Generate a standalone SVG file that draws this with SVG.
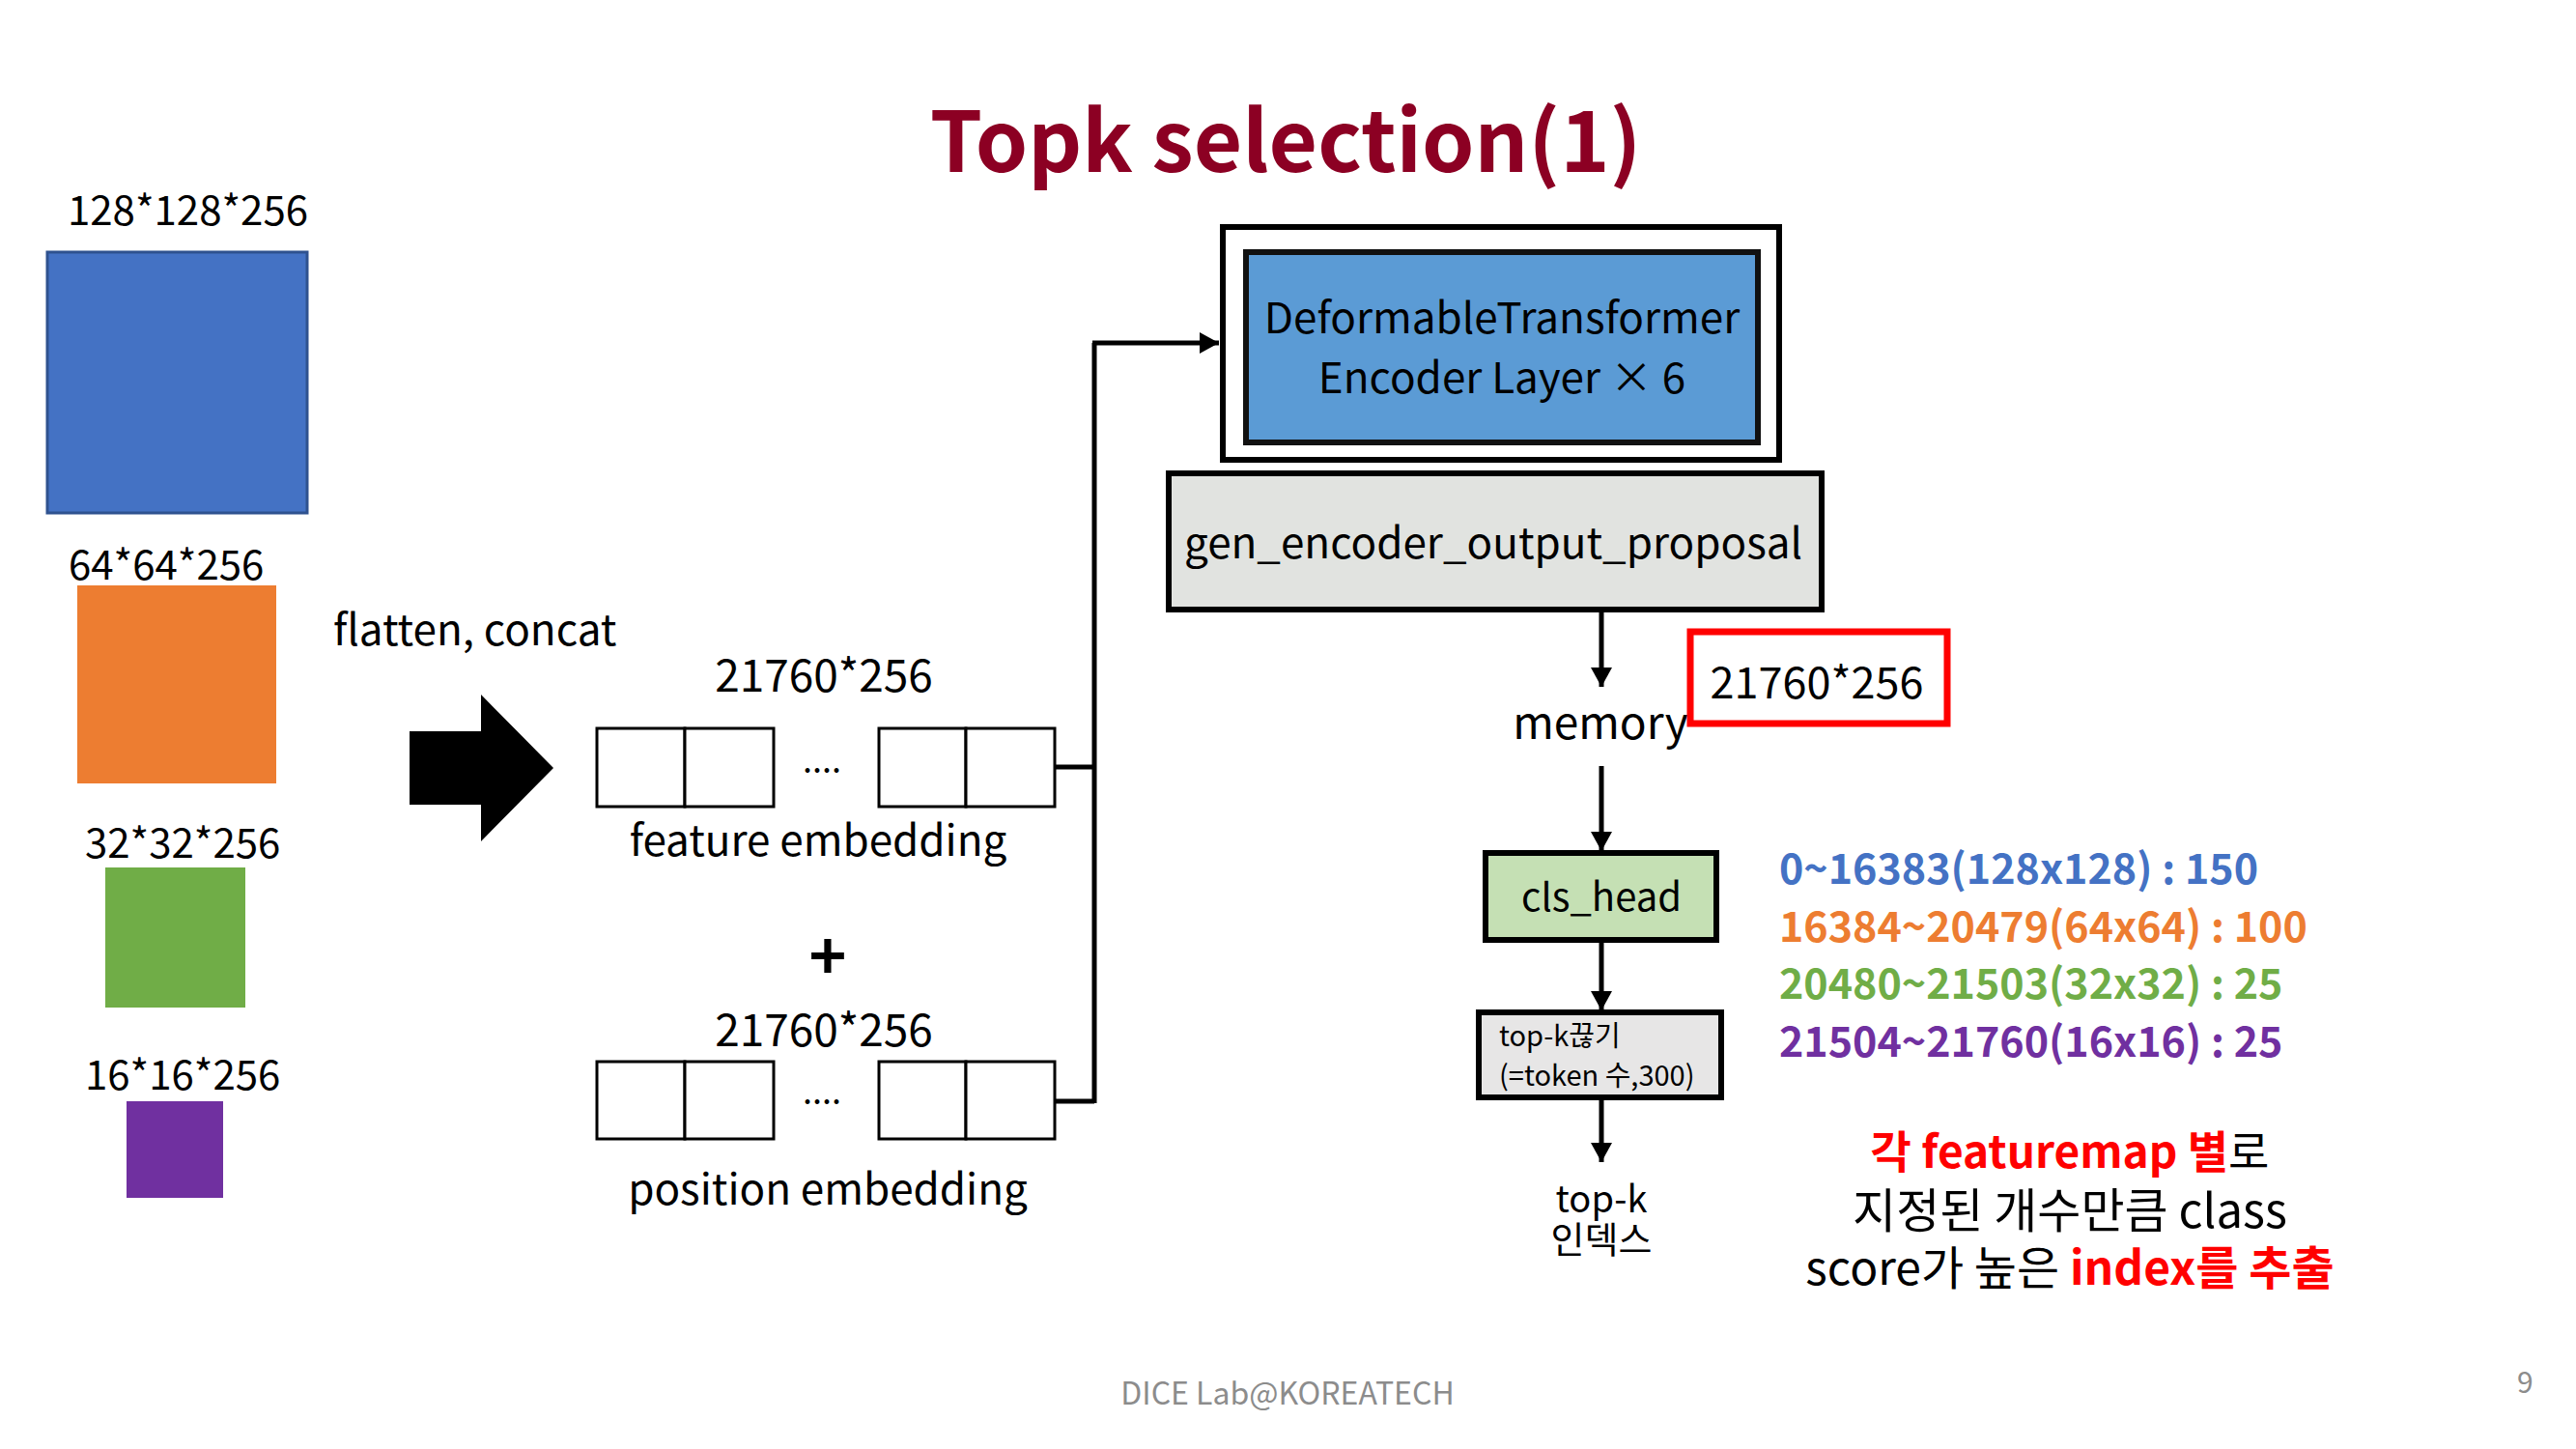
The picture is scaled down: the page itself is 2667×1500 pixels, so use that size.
<svg xmlns="http://www.w3.org/2000/svg" width="2667" height="1500" viewBox="0 0 2667 1500">
<defs>
<style>
text{font-family:"Noto Sans CJK KR","Noto Sans",sans-serif;fill:#000}
.t42{font-size:42px}
.t44{font-size:44px}
.b{font-weight:bold}
.cell{fill:#fff;stroke:#000;stroke-width:3}
.conn{fill:none;stroke:#000;stroke-width:5}
.red{fill:#FF0000;font-weight:bold}
</style>
<marker id="ah" markerUnits="userSpaceOnUse" markerWidth="22" markerHeight="22" refX="20" refY="11" orient="auto">
<path d="M0,0 L20,11 L0,22 Z" fill="#000"/>
</marker>
</defs>
<rect width="2667" height="1500" fill="#fff"/>
<g id="title"><text x="1331" y="178" text-anchor="middle" font-size="87" font-weight="bold" style="fill:#8C0023">Topk selection(1)</text></g>

<g id="fm128"><text class="t42" x="70" y="233">128*128*256</text><rect x="49" y="261" width="269" height="270" fill="#4472C4" stroke="#2F528F" stroke-width="3"/></g>
<g id="fm64"><text class="t42" x="71" y="600">64*64*256</text><rect x="80" y="606" width="206" height="205" fill="#ED7D31"/></g>
<g id="fm32"><text class="t42" x="88" y="888">32*32*256</text><rect x="109" y="898" width="145" height="145" fill="#70AD47"/></g>
<g id="fm16"><text class="t42" x="88" y="1128">16*16*256</text><rect x="131" y="1140" width="100" height="100" fill="#7030A0"/></g>

<g id="flatten"><text class="t44" x="345" y="668">flatten, concat</text><path d="M424,757 H498 V719 L573,795 L498,871 V833 H424 Z" fill="#000"/></g>

<g id="feature"><text x="853" y="716" text-anchor="middle" font-size="46">21760*256</text>
<rect class="cell" x="618" y="754" width="91" height="81"/><rect class="cell" x="709" y="754" width="92" height="81"/>
<text x="851" y="800" text-anchor="middle" font-size="36">....</text>
<rect class="cell" x="910" y="754" width="90" height="81"/><rect class="cell" x="1000" y="754" width="92" height="81"/>
<text class="t44" x="847" y="886" text-anchor="middle">feature embedding</text></g>

<g id="plus"><text x="857" y="1014" text-anchor="middle" font-size="66" font-weight="bold">+</text></g>

<g id="position"><text x="853" y="1083" text-anchor="middle" font-size="46">21760*256</text>
<rect class="cell" x="618" y="1099" width="91" height="80"/><rect class="cell" x="709" y="1099" width="92" height="80"/>
<text x="851" y="1143" text-anchor="middle" font-size="36">....</text>
<rect class="cell" x="910" y="1099" width="90" height="80"/><rect class="cell" x="1000" y="1099" width="92" height="80"/>
<text class="t44" x="857" y="1247" text-anchor="middle">position embedding</text></g>

<g id="encoder"><rect x="1266" y="235" width="576" height="241" fill="#fff" stroke="#000" stroke-width="6"/>
<rect x="1290" y="261" width="530" height="197" fill="#5B9BD5" stroke="#111" stroke-width="6"/>
<text x="1555" y="345" text-anchor="middle" font-size="44">DeformableTransformer</text>
<text x="1555" y="407" text-anchor="middle" font-size="44">Encoder Layer × 6</text></g>

<g id="gen"><rect x="1210" y="490" width="676" height="141" fill="#E1E3E0" stroke="#000" stroke-width="6"/>
<text x="1546" y="578" text-anchor="middle" font-size="44">gen_encoder_output_proposal</text></g>

<g id="memory"><text x="1657" y="765" text-anchor="middle" font-size="46">memory</text></g>
<g id="dim"><rect x="1750" y="654" width="266" height="95" fill="#fff" stroke="#FF0000" stroke-width="7"/>
<text x="1881" y="723" text-anchor="middle" font-size="45">21760*256</text></g>

<g id="cls"><rect x="1538" y="883" width="239" height="90" fill="#C5E0B4" stroke="#000" stroke-width="6"/>
<text x="1658" y="943" text-anchor="middle" font-size="40">cls_head</text></g>

<g id="topk"><rect x="1531" y="1048" width="251" height="88" fill="#E7E6E6" stroke="#000" stroke-width="6"/>
<text x="1552" y="1083" font-size="29">top-k끊기</text>
<text x="1552" y="1124" font-size="29">(=token 수,300)</text></g>

<g id="topkidx"><text x="1658" y="1255" text-anchor="middle" font-size="38">top-k</text>
<text x="1658" y="1297" text-anchor="middle" font-size="38">인덱스</text></g>

<g id="ranges" font-weight="bold" font-size="43">
<text x="1842" y="915" style="fill:#4472C4">0~16383(128x128) : 150</text>
<text x="1842" y="975" style="fill:#ED7D31">16384~20479(64x64) : 100</text>
<text x="1842" y="1034" style="fill:#70AD47">20480~21503(32x32) : 25</text>
<text x="1842" y="1094" style="fill:#7030A0">21504~21760(16x16) : 25</text></g>

<g id="note">
<text x="2143" y="1209" text-anchor="middle" font-size="46"><tspan class="red">각 featuremap 별</tspan>로</text>
<text x="2143" y="1271" text-anchor="middle" font-size="49">지정된 개수만큼 class</text>
<text x="2143" y="1330" text-anchor="middle" font-size="48">score가 높은 <tspan class="red">index를 추출</tspan></text></g>

<g id="connectors">
<path class="conn" d="M1092,794 H1133 M1092,1140 H1133 M1133,1142 V355"/>
<path class="conn" d="M1131,355 H1262" marker-end="url(#ah)"/>
<path class="conn" d="M1658,633 V711" marker-end="url(#ah)"/>
<path class="conn" d="M1658,793 V881" marker-end="url(#ah)"/>
<path class="conn" d="M1658,975 V1046" marker-end="url(#ah)"/>
<path class="conn" d="M1658,1138 V1203" marker-end="url(#ah)"/>
</g>

<g id="footer"><text x="1333" y="1454" text-anchor="middle" font-size="32" style="fill:#8C8C8C">DICE Lab@KOREATECH</text>
<text x="2606" y="1442" font-size="30" style="fill:#8C8C8C">9</text></g>
</svg>
